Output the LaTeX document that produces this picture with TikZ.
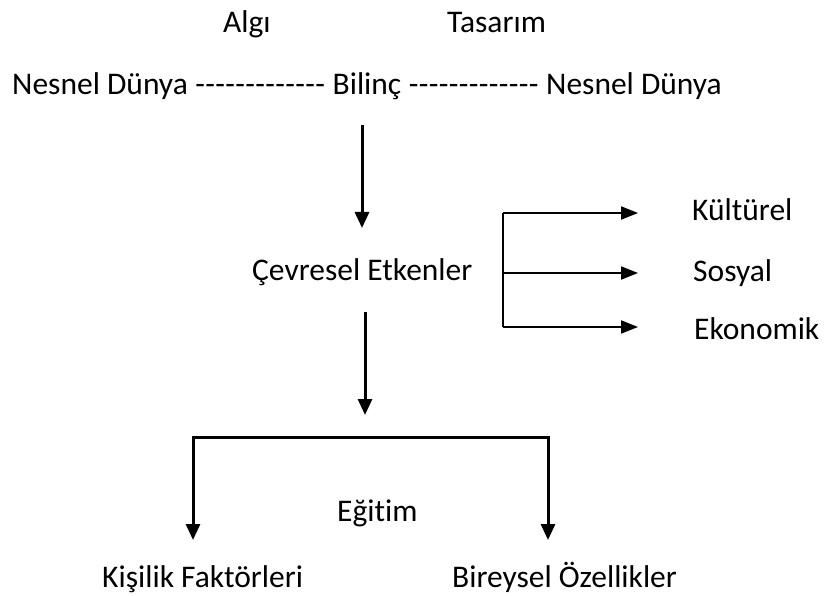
\documentclass[tikz,border=0pt]{standalone}
\usepackage{fontspec}
\setmainfont{Carlito}[Ligatures={NoCommon}]
\usetikzlibrary{arrows.meta,positioning}
\newcommand\hyph{\makebox[10pt]{-}}
\newcommand\dashrow{\hyph\hyph\hyph\hyph\hyph\hyph\hyph\hyph\hyph\hyph\hyph\hyph\hyph}
\begin{document}
\begin{tikzpicture}[x=1pt,y=-1pt,
  lbl/.style={inner sep=0pt,anchor=base west,font=\fontsize{31.5}{38}\selectfont},
  row/.style={lbl,anchor=base west},
  thick arrow/.style={line width=3pt,-{Triangle[width=14pt,length=16pt]}},
  thin arrow/.style={line width=2pt,-{Triangle[width=13pt,length=17pt]}},
  bracket/.style={line width=3pt,{Triangle[width=14pt,length=16pt]}-{Triangle[width=14pt,length=16pt]}}]
\useasboundingbox (0,0) rectangle (827,596);
% top labels
\node[lbl] (algi) at (223,33) {Algı};
\node[lbl] (tasarim) at (447,33) {Tasarım};
% second line
\node[row] (nd1) at (12,95) {Nesnel Dünya};
\node[row] (d1) at ([xshift=7pt]nd1.base east) {\dashrow};
\node[row] (bilinc) at ([xshift=7pt]d1.base east) {Bilinç};
\node[row] (d2) at ([xshift=7pt]bilinc.base east) {\dashrow};
\node[row] (nd2) at ([xshift=7pt]d2.base east) {Nesnel Dünya};
% middle
\node[lbl] (cevre) at (252,280) {Çevresel Etkenler};
\node[lbl] (kultur) at (692,221) {Kültürel};
\node[lbl] (sosyal) at (693,281) {Sosyal};
\node[lbl] (ekon) at (694,339) {Ekonomik};
% bottom
\node[lbl] (egitim) at (337,521) {Eğitim};
\node[lbl] (kisilik) at (102,587) {Kişilik Faktörleri};
\node[lbl] (bireysel) at (452,587) {Bireysel Özellikler};
% coordinates
\coordinate (a1s) at (362,125);
\coordinate (a1e) at (362,228);
\coordinate (a2s) at (365,312);
\coordinate (a2e) at (365,415);
\coordinate (fk) at (503,213);
\coordinate (fs) at (503,273);
\coordinate (fe) at (503,327);
\coordinate (fkt) at (638,213);
\coordinate (fst) at (638,273);
\coordinate (fet) at (638,327);
\coordinate (bl) at (193,540);
\coordinate (br) at (548,540);
\coordinate (bt) at (0,437);
% arrows
\draw[thick arrow] (a1s) -- (a1e);
\draw[thick arrow] (a2s) -- (a2e);
\draw[line width=2pt] (fk) -- (fe);
\draw[thin arrow] (fk) -- (fkt);
\draw[thin arrow] (fs) -- (fst);
\draw[thin arrow] (fe) -- (fet);
\draw[bracket] (bl) -- (bl |- bt) -- (br |- bt) -- (br);
\end{tikzpicture}
\end{document}
